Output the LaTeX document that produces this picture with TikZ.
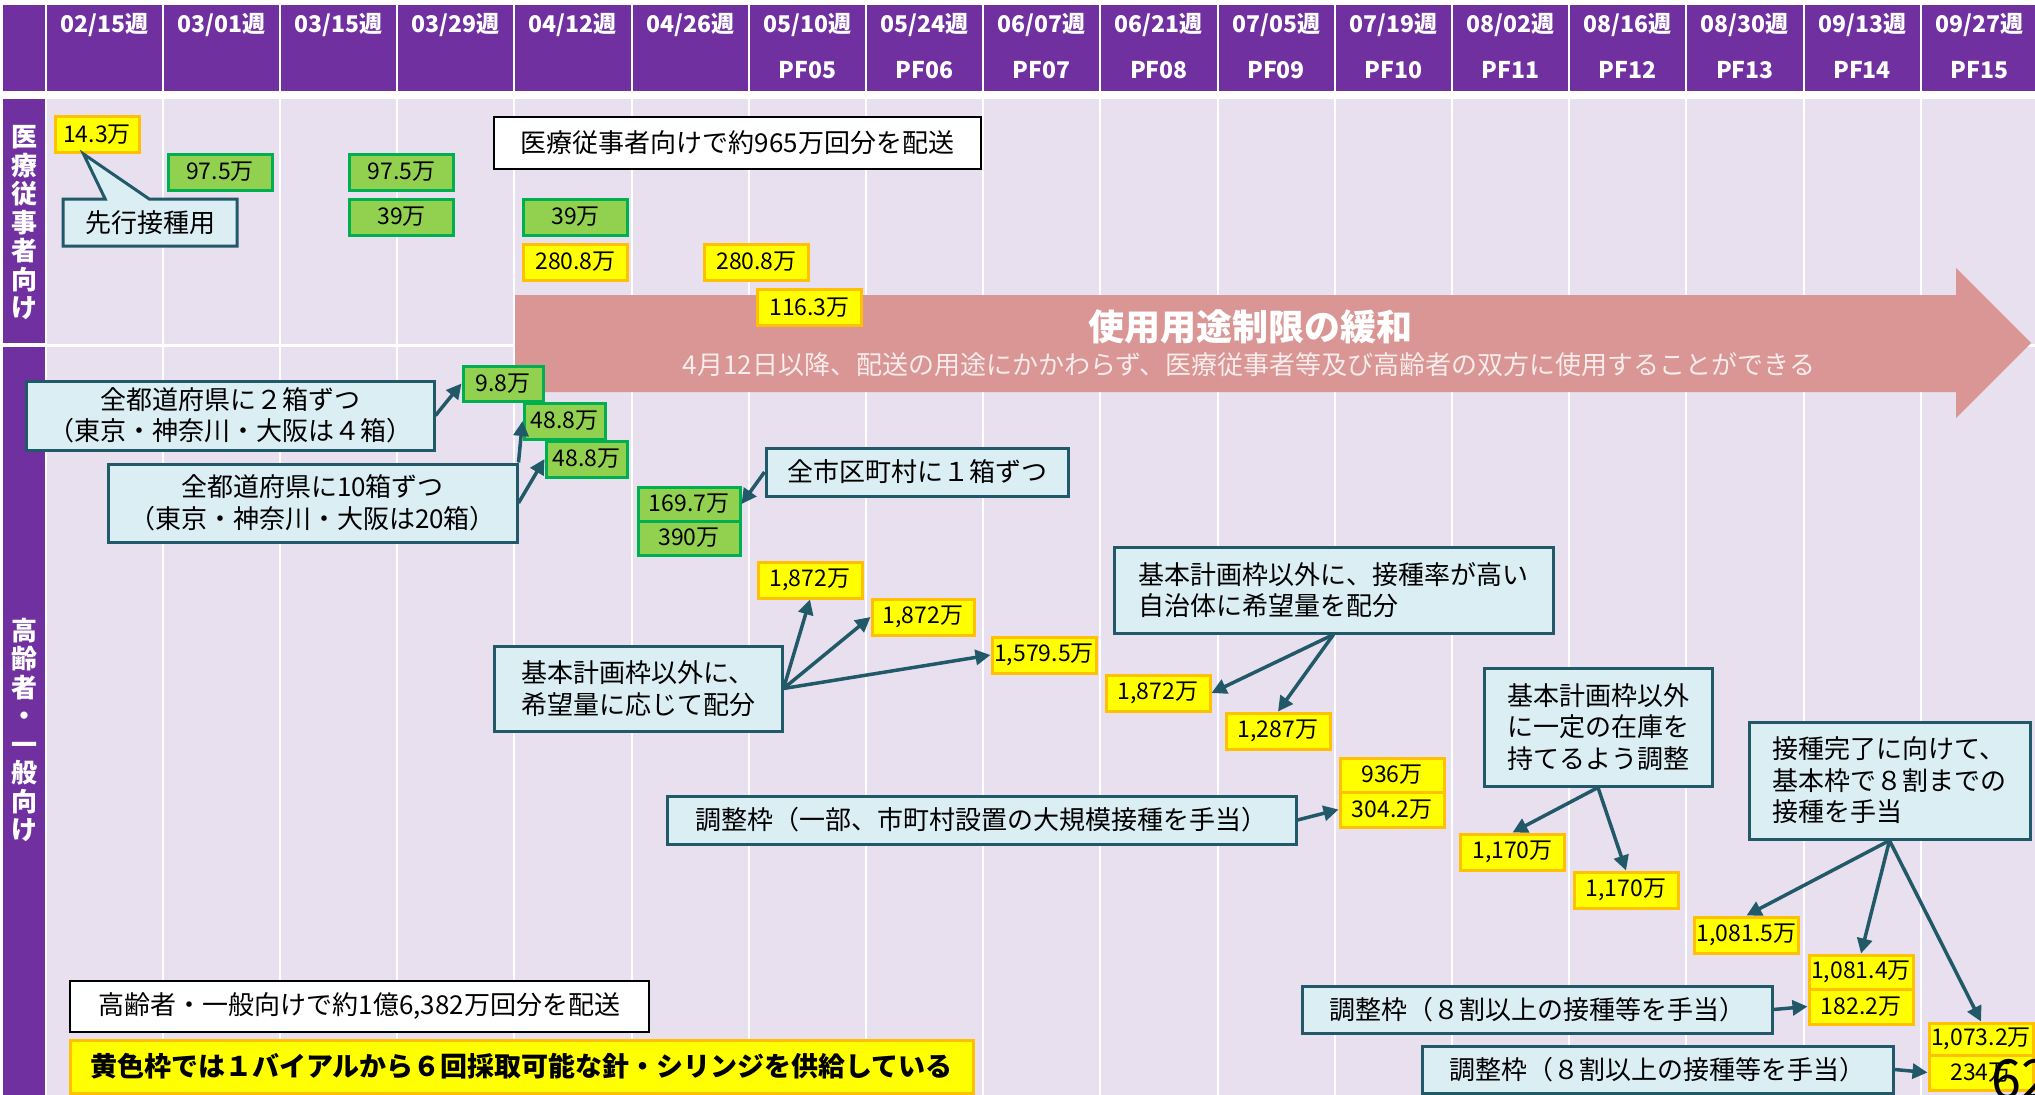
\documentclass[tikz,border=0pt]{standalone}
\usepackage{fontspec}
\setmainfont{Noto Sans CJK JP}
\usepackage{tikz}
\usetikzlibrary{arrows.meta, shapes.callouts, calc}

\definecolor{hdrpurple}{HTML}{7030A0}
\definecolor{bodylav}{HTML}{E8E0EE}
\definecolor{relaxpink}{HTML}{D99694}
\definecolor{memofill}{HTML}{DAEEF3}
\definecolor{memoline}{HTML}{215968}
\definecolor{valyellow}{HTML}{FFFF00}
\definecolor{valorange}{HTML}{FFC000}
\definecolor{valgreen}{HTML}{92D050}
\definecolor{valgreenline}{HTML}{00B050}

\newcommand{\jpsize}[2]{\fontsize{#1}{#2}\selectfont}

\begin{document}
\begin{tikzpicture}[x=1pt, y=-1pt,
    valy/.style={draw=valorange, fill=valyellow, line width=3pt, inner sep=1pt,
      minimum width=104pt, minimum height=36pt, font=\jpsize{23}{23}},
    valg/.style={valy, draw=valgreenline, fill=valgreen},
    memo/.style={draw=memoline, fill=memofill, line width=3pt, inner sep=2pt,
      font=\jpsize{26}{31.5}},
    total/.style={draw=black, fill=white, line width=2pt, font=\jpsize{26}{26}},
    link/.style={memoline, line width=3.5pt, -{Triangle[length=15pt, width=15pt]}},
    hdr/.style={text=white, font=\bfseries\jpsize{23}{23}}]
  \useasboundingbox (0,0) rectangle (2035,1095);
  \clip (0,0) rectangle (2035,1095);
  % background grid
  \fill[white] (0,0) rectangle (2035,1095);
  \fill[hdrpurple] (3,5) rectangle (2035,91);
  \fill[bodylav] (45.5,99) rectangle (2035,1095);
  \fill[hdrpurple] (3,99) rectangle (45,343);
  \fill[hdrpurple] (3,347) rectangle (45,1095);
  \foreach \i in {0,...,16} {
    \draw[white, line width=2pt] ({45.5+117.2*\i},5) -- ({45.5+117.2*\i},91);
    \draw[white, line width=2pt] ({45.5+117.2*\i},99) -- ({45.5+117.2*\i},1095);
  }
  \draw[white, line width=3pt] (45.5,345) -- (2035,345);
  \foreach \d [count=\n from 0] in
      {02/15,03/01,03/15,03/29,04/12,04/26,05/10,05/24,06/07,
       06/21,07/05,07/19,08/02,08/16,08/30,09/13,09/27} {
    \node[hdr] (wk\n) at ({104.1+117.2*\n},25) {\d 週};
  }
  \foreach \p [count=\n from 6] in {05,06,07,08,09,10,11,12,13,14,15} {
    \node[hdr] (pf\n) at ({104.1+117.2*\n},70) {PF\p};
  }
  \node[text=white, font=\bfseries\jpsize{26}{28.5}, align=center] (lblmed)
      at (24,223) {医\\療\\従\\事\\者\\向\\け};
  \node[text=white, font=\bfseries\jpsize{26}{28.5}, align=center] (lblold)
      at (24,730) {高\\齢\\者\\・\\一\\般\\向\\け};

  % relaxation arrow
  \fill[relaxpink] (515,295) -- (1956,295) -- (1956,268) -- (2031,343)
      -- (1956,418) -- (1956,392) -- (515,392) -- cycle;
  \node[text=white, font=\bfseries\jpsize{36}{36}] (relaxttl) at (1250,327)
      {使用用途制限の緩和};
  \node[text=white!82!relaxpink, font=\jpsize{26}{26}] (relaxsub) at (1249,365)
      {4月12日以降、配送の用途にかかわらず、医療従事者等及び高齢者の双方に使用することができる};

  % medical staff
  \node[total, minimum width=487pt, minimum height=52pt] (totmed) at (737.5,143)
      {医療従事者向けで約965万回分を配送};
  \node[valy, minimum width=84pt] (v143) at (97,134.5) {14.3万};
  \node[valg] (v975a) at (220,172) {97.5万};
  \node[valg] (v975b) at (401.5,172) {97.5万};
  \node[valg] (v39a) at (401.5,217) {39万};
  \node[valg] (v39b) at (575.5,217) {39万};
  \node[valy] (v2808a) at (575.5,262) {280.8万};
  \node[valy] (v2808b) at (756.5,262) {280.8万};
  \node[valy] (v1163) at (809.5,307.5) {116.3万};
  \node[memo, rectangle callout, minimum width=174pt, minimum height=47pt,
      callout absolute pointer={([xshift=30pt]v143.south west)},
      callout pointer width=44pt] (cpre) at (150,222.5) {先行接種用};

  % elderly and general
  \node[valg, minimum width=80pt, minimum height=35pt] (v98) at (503,383.5) {9.8万};
  \node[valg, minimum width=81pt] (v488a) at (564.5,421) {48.8万};
  \node[valg, minimum width=81pt] (v488b) at (586.5,459) {48.8万};
  \node[valg, minimum width=102pt, minimum height=34pt] (v1697) at (689,504) {169.7万};
  \node[valg, minimum width=102pt, minimum height=34pt] (v390) at (689,538) {390万};
  \node[valy] (v1872a) at (810,580) {1,872万};
  \node[valy, minimum width=102pt] (v1872b) at (923,617) {1,872万};
  \node[valy] (v15795) at (1044,655) {1,579.5万};
  \node[valy] (v1872c) at (1158,693) {1,872万};
  \node[valy] (v1287) at (1278,731) {1,287万};
  \node[valy, minimum height=34pt] (v936) at (1392,775) {936万};
  \node[valy, minimum height=35pt] (v3042) at (1392,809.5) {304.2万};
  \node[valy] (v1170a) at (1512.5,852) {1,170万};
  \node[valy] (v1170b) at (1626,890) {1,170万};
  \node[valy] (v10815) at (1746.5,935) {1,081.5万};
  \node[valy, minimum height=34pt] (v10814) at (1861,972) {1,081.4万};
  \node[valy, minimum height=35pt] (v1822) at (1861,1006.5) {182.2万};
  \node[valy, minimum height=32pt] (v10732) at (1981,1039) {1,073.2万};
  \node[valy, minimum height=35pt] (v234) at (1981,1072.5) {234万};

  \node[memo, minimum width=408pt, minimum height=69pt, align=center] (cpref2)
      at (230,415.5) {全都道府県に２箱ずつ\\（東京・神奈川・大阪は４箱）};
  \node[memo, minimum width=409pt, minimum height=78pt, align=center] (cpref10)
      at (312.5,503) {全都道府県に10箱ずつ\\（東京・神奈川・大阪は20箱）};
  \node[memo, minimum width=302pt, minimum height=48pt] (cmuni) at (917,472)
      {全市区町村に１箱ずつ};
  \node[memo, minimum width=288pt, minimum height=85pt, align=left] (cwish)
      at (638,688.5) {基本計画枠以外に、\\希望量に応じて配分};
  \node[memo, minimum width=439pt, minimum height=86pt, align=left] (crate)
      at (1333.5,590) {基本計画枠以外に、接種率が高い\\自治体に希望量を配分};
  \node[memo, minimum width=228pt, minimum height=118pt, align=left] (cstock)
      at (1598,727) {基本計画枠以外\\に一定の在庫を\\持てるよう調整};
  \node[memo, minimum width=629pt, minimum height=48pt] (cadjbig) at (981.5,820)
      {調整枠（一部、市町村設置の大規模接種を手当）};
  \node[memo, minimum width=281pt, minimum height=117pt, align=left] (cfinish)
      at (1889.5,780.5) {接種完了に向けて、\\基本枠で８割までの\\接種を手当};
  \node[memo, minimum width=470pt, minimum height=47pt] (cadja) at (1537,1009.5)
      {調整枠（８割以上の接種等を手当）};
  \node[memo, minimum width=471pt, minimum height=47pt] (cadjb) at (1657.5,1069.5)
      {調整枠（８割以上の接種等を手当）};

  \draw[link] (cpref2.east) -- (v98.west);
  \draw[link] (cpref10.north east) -- (v488a.west);
  \draw[link] (cpref10.east) -- (v488b.west);
  \draw[link] (cmuni.west) -- (v1697.east);
  \draw[link] (cwish.east) -- (v1872a.south);
  \draw[link] (cwish.east) -- (v1872b.west);
  \draw[link] (cwish.east) -- (v15795.west);
  \draw[link] (crate.south) -- (v1872c.east);
  \draw[link] (crate.south) -- (v1287.north);
  \draw[link] (cstock.south) -- (v1170a.north);
  \draw[link] (cstock.south) -- (v1170b.north);
  \draw[link] (cadjbig.east) -- (v3042.west);
  \draw[link] (cfinish.south) -- (v10815.north);
  \draw[link] (cfinish.south) -- (v10814.north);
  \draw[link] (cfinish.south) -- (v10732.north);
  \draw[link] (cadja.east) -- (v1822.west);
  \draw[link] (cadjb.east) -- (v234.west);

  \node[total, minimum width=579pt, minimum height=51pt] (totold) at (359.5,1006.5)
      {高齢者・一般向けで約1億6,382万回分を配送};
  \node[draw=valorange, fill=valyellow, line width=3pt, minimum width=903pt,
      minimum height=53pt, font=\bfseries\jpsize{27}{27}] (needle) at (521.5,1066.5)
      {黄色枠では１バイアルから６回採取可能な針・シリンジを供給している};
  \node[anchor=base west, inner sep=0pt, font=\jpsize{54}{54}] (pageno)
      at (1991,1098) {62};
\end{tikzpicture}
\end{document}
